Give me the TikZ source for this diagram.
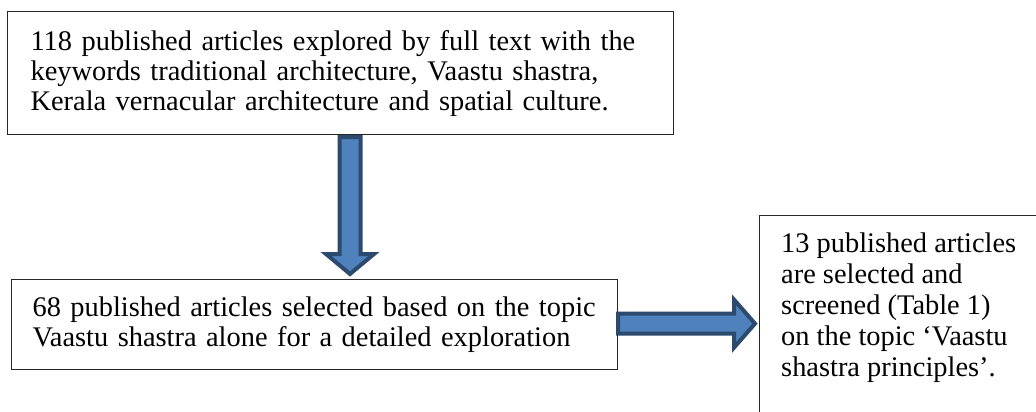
\documentclass[tikz,border=0pt]{standalone}
\usepackage{fontspec}
\setmainfont{Liberation Serif}
\usetikzlibrary{calc}
\definecolor{arrfill}{HTML}{4F81BD}
\definecolor{arrline}{HTML}{2C4A6E}
\begin{document}
\begin{tikzpicture}[x=1pt,y=-1pt,
  box/.style={draw=black!85, line width=1.2pt, rectangle, anchor=north west, inner sep=0pt},
  txt/.style={font=\fontsize{28.4}{30}\selectfont, align=left},
  blockarrow/.style={fill=arrfill, draw=arrline, line width=4pt, line join=miter}]
\useasboundingbox (0,0) rectangle (1036,412);
\clip (0,0) rectangle (1036,412);
\node[box, txt, text width=620pt, inner xsep=23pt, minimum height=123pt] (b1) at (7,11)
  {118 published articles explored by full text with the\\
   keywords traditional architecture, Vaastu shastra,\\
   Kerala vernacular architecture and spatial culture.};
\node[box, txt, text width=564pt, inner xsep=21pt, minimum height=90pt] (b2) at (11,279)
  {68 published articles selected based on the topic\\
   Vaastu shastra alone for a detailed exploration};
\node[box, minimum width=320pt, minimum height=240pt] (b3) at (759,215) {};
\node[txt, font=\fontsize{28.4}{31}\selectfont, anchor=north west, inner sep=0pt] (t3)
  at ($(b3.north west)+(22,18)$)
  {13 published articles\\
   are selected and\\
   screened (Table 1)\\
   on the topic `Vaastu\\
   shastra principles'.};
% down block arrow
\coordinate (dtop) at ($(b1.south west)+(343,2)$);
\coordinate (dtip) at ($(b2.north west)+(339,-5)$);
\draw[blockarrow] ($(dtop)+(-10.5,0)$) -- ($(dtop)+(10.5,0)$) -- ($(dtip)+(10.5,-20)$)
  -- ($(dtip)+(24,-20)$) -- (dtip) -- ($(dtip)+(-24,-20)$) -- ($(dtip)+(-10.5,-20)$) -- cycle;
% right block arrow
\coordinate (rs) at ($(b2.east)+(0,-1)$);
\coordinate (rtip) at ($(b3.west |- rs)+(-4,0)$);
\draw[blockarrow] ($(rs)+(0,-10)$) -- ($(rtip)+(-21,-10)$) -- ($(rtip)+(-21,-24)$)
  -- (rtip) -- ($(rtip)+(-21,24)$) -- ($(rtip)+(-21,10)$) -- ($(rs)+(0,10)$) -- cycle;
\end{tikzpicture}
\end{document}
